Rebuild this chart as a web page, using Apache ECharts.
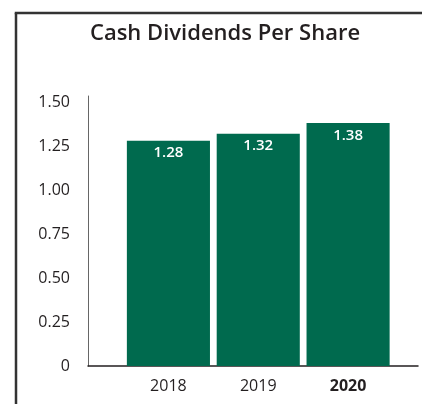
<!DOCTYPE html>
<html>
<head>
<meta charset="utf-8">
<script src="https://cdn.jsdelivr.net/npm/echarts@6/dist/echarts.min.js"></script>
<style>html,body{margin:0;padding:0;background:#fff;overflow:hidden;}#c{width:425px;height:404px;}</style>
</head>
<body>
<div id="c"></div>
<script>
const title = 'Cash Dividends Per Share';
const categories = ['2018', '2019', '2020'];
const dividends = [1.28, 1.32, 1.38];
const yTicks = [0, 0.25, 0.5, 0.75, 1.0, 1.25, 1.5];

const chart = echarts.init(document.getElementById('c'), null, {renderer: 'canvas'});
const font = '"Open Sans", "Noto Sans", sans-serif';
const yMax = 1.534;
chart.setOption({
  animation: false,
  backgroundColor: '#fff',
  graphic: [
    {type: 'line', shape: {x1: 16, y1: 13, x2: 16, y2: 404}, style: {stroke: '#333', lineWidth: 2.5}, z: 100},
    {type: 'line', shape: {x1: 14.75, y1: 13, x2: 422, y2: 13}, style: {stroke: '#333', lineWidth: 2.5}, z: 100},
    {type: 'text', x: 225, y: 34, style: {text: title, textAlign: 'center', textVerticalAlign: 'middle',
      fontFamily: font, fontSize: 22, fontWeight: 600, fill: '#231f20'}, z: 100}
  ],
  grid: [
    {left: 123.5, right: 32, top: 96, bottom: 38},
    {left: 88, right: 7, top: 96, bottom: 38}
  ],
  xAxis: [
    {
      type: 'category', gridIndex: 0,
      data: categories.map((c, i) => i === categories.length - 1 ? {value: c, textStyle: {fontWeight: 'bold'}} : c),
      axisLine: {show: false}, axisTick: {show: false},
      axisLabel: {fontFamily: font, fontSize: 16, color: '#231f20', margin: 12}
    },
    {
      type: 'value', gridIndex: 1, min: 0, max: 1,
      axisLine: {show: true, lineStyle: {color: '#231f20', width: 1.5}},
      axisTick: {show: false}, axisLabel: {show: false}, splitLine: {show: false}
    }
  ],
  yAxis: [
    {type: 'value', gridIndex: 0, min: 0, max: yMax, show: false, splitLine: {show: false}},
    {
      type: 'value', gridIndex: 1, min: 0, max: yMax, interval: 0.25,
      axisLine: {show: true, lineStyle: {color: '#666', width: 1}},
      axisTick: {show: false}, splitLine: {show: false},
      axisLabel: {
        fontFamily: font, fontSize: 16, color: '#231f20', margin: 18,
        formatter: v => {
          const t = yTicks.find(x => Math.abs(x - v) < 1e-6);
          if (t === undefined) return '';
          return t === 0 ? '0' : t.toFixed(2);
        }
      }
    }
  ],
  series: [{
    type: 'bar', xAxisIndex: 0, yAxisIndex: 0,
    data: dividends,
    barCategoryGap: '7.5%',
    itemStyle: {color: '#006a4e'},
    label: {
      show: true, position: 'insideTop', distance: 5,
      fontFamily: font, fontSize: 15, fontWeight: 600, color: '#fff',
      formatter: p => p.value.toFixed(2)
    }
  }]
});
</script>
</body>
</html>
